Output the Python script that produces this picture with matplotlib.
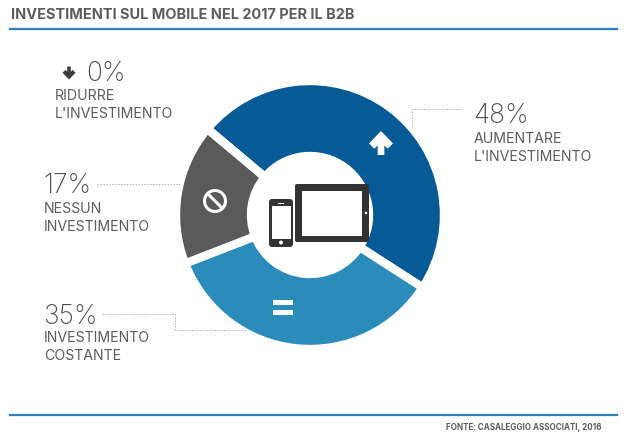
import matplotlib
matplotlib.use("Agg")
import matplotlib.pyplot as plt
from matplotlib.patches import Circle, FancyBboxPatch, Polygon, Rectangle

plt.rcParams["font.family"] = ["Inter", "DejaVu Sans"]

titolo = "INVESTIMENTI SUL MOBILE NEL 2017 PER IL B2B"
fonte = "FONTE: CASALEGGIO ASSOCIATI, 2016"
valori = [48, 35, 17, 0]
colori = ["#065b96", "#2b8cbc", "#5a5a5a", "#5a5a5a"]
percentuali = ["48%", "35%", "17%", "0%"]
etichette = ["AUMENTARE\nL'INVESTIMENTO", "INVESTIMENTO\nCOSTANTE", "NESSUN\nINVESTIMENTO", "RIDURRE\nL'INVESTIMENTO"]

ALT = 445
def Y(py):
    return ALT - py

fig = plt.figure(figsize=[6.37, 4.45], dpi=100)
ax = fig.add_axes([0, 0, 1, 1])

#---------------------------------------------------------- ciambella
ax.pie(valori, colors=colori, startangle=140, counterclock=False, center=(310, Y(215)), radius=134,
       wedgeprops={"width": 75, "edgecolor": "white", "linewidth": 6}, frame=False)
ax.set_xlim(0, 637)
ax.set_ylim(0, ALT)
ax.set_aspect("equal")
ax.axis("off")

#---------------------------------------------------------- linee blu e testi fissi
ax.plot([10, 617], [Y(29), Y(29)], color="#2f7fb8", lw=1.6)
ax.plot([10, 617], [Y(415), Y(415)], color="#2f7fb8", lw=1.6)
ax.text(11, Y(15), titolo, fontsize=10.45, fontweight="bold", color="#5c5c5c", va="center", ha="left")
ax.text(601, Y(428), fonte, fontsize=5.8, fontweight="bold", color="#5c5c5c", va="center", ha="right")

#---------------------------------------------------------- percentuali ed etichette
pos_perc = [(473, 116), (43, 317), (43, 186), (86, 74)]
pos_etich = [(474, 148), (44, 347), (44, 218), (55, 105)]
for p, e, (xp, yp), (xe, ye) in zip(percentuali, etichette, pos_perc, pos_etich):
    ax.text(xp, Y(yp), p, fontsize=19, color="#4a4a4a", va="center", ha="left", fontweight="light")
    ax.text(xe, Y(ye), e, fontsize=10.2, color="#5c5c5c", va="center", ha="left", linespacing=1.3)

#---------------------------------------------------------- linee tratteggiate
stile = {"color": "#b0b0b0", "lw": 0.7, "ls": (0, (1.5, 1.5))}
ax.plot([412, 412, 462], [Y(127), Y(109), Y(109)], **stile)
ax.plot([97, 181], [Y(184), Y(184)], **stile)
ax.plot([102, 175, 175, 245], [Y(314), Y(314), Y(330), Y(330)], **stile)

#---------------------------------------------------------- icone
def freccia(cx, cy, l, colore, giu=False):
    s = -1 if giu else 1
    punti = [(0, -0.5), (0.5, 0.02), (0.28, 0.24), (0.14, 0.1), (0.14, 0.5), (-0.14, 0.5), (-0.14, 0.1), (-0.28, 0.24), (-0.5, 0.02)]
    ax.add_patch(Polygon([(cx + px * l, Y(cy + s * py * l)) for px, py in punti], closed=True, color=colore, lw=0))

freccia(381, 143, 24, "white")
freccia(69, 73, 13, "#3c3c3c", giu=True)

# divieto
ax.add_patch(Circle((215, Y(201)), 10.5, fill=False, edgecolor="white", lw=2.2))
ax.plot([208, 222], [Y(194), Y(208)], color="white", lw=2.2, solid_capstyle="butt")

# uguale
ax.add_patch(Rectangle((273, Y(305)), 20, 5, color="white", lw=0))
ax.add_patch(Rectangle((273, Y(315)), 20, 5, color="white", lw=0))

# tablet
scuro = "#333333"
ax.add_patch(FancyBboxPatch((297, Y(240)), 70, 54, boxstyle="round,pad=2,rounding_size=2", color=scuro, lw=0))
ax.add_patch(Rectangle((302, Y(236)), 60, 45, color="white", lw=0))
ax.add_patch(Circle((366, Y(213)), 1.3, color="white", lw=0))

# telefono
ax.add_patch(FancyBboxPatch((271, Y(245)), 20, 44, boxstyle="round,pad=2,rounding_size=3", color=scuro, lw=0))
ax.add_patch(Rectangle((272, Y(239)), 19, 33, color="white", lw=0))
ax.add_patch(Circle((281, Y(242.5)), 2, color="white", lw=0))
ax.add_patch(Rectangle((278, Y(203.5)), 6, 1, color="white", lw=0))

plt.savefig("out.png", dpi=100)
plt.close()
